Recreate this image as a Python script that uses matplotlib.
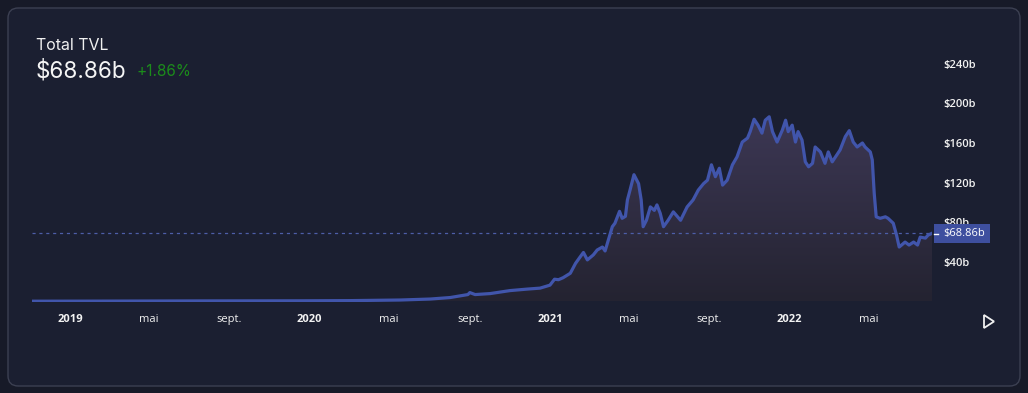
import numpy as np
import matplotlib
matplotlib.use("Agg")
import matplotlib.pyplot as plt
import matplotlib.dates as mdates
from matplotlib.patches import FancyBboxPatch, Polygon, Rectangle
from matplotlib.lines import Line2D

# TVL data (billions USD)
dates = ["2018-11-04", "2019-02-16", "2019-07-18", "2019-12-17", "2020-03-03",
         "2020-05-18", "2020-07-03", "2020-08-02", "2020-08-29", "2020-09-01",
         "2020-09-09", "2020-10-02", "2020-11-01", "2020-11-27", "2020-12-17",
         "2021-01-01", "2021-01-08", "2021-01-14", "2021-01-21", "2021-02-01",
         "2021-02-09", "2021-02-16", "2021-02-21", "2021-02-27", "2021-03-08",
         "2021-03-14", "2021-03-22", "2021-03-26", "2021-04-06", "2021-04-10",
         "2021-04-17", "2021-04-21", "2021-04-26", "2021-04-29", "2021-05-03",
         "2021-05-09", "2021-05-16", "2021-05-20", "2021-05-23", "2021-05-28",
         "2021-06-03", "2021-06-09", "2021-06-13", "2021-06-18", "2021-06-23",
         "2021-06-30", "2021-07-08", "2021-07-19", "2021-07-29", "2021-08-07",
         "2021-08-15", "2021-08-23", "2021-08-29", "2021-09-04", "2021-09-10",
         "2021-09-16", "2021-09-21", "2021-09-28", "2021-10-06", "2021-10-13",
         "2021-10-21", "2021-10-29", "2021-11-02", "2021-11-08", "2021-11-14",
         "2021-11-20", "2021-11-25", "2021-12-01", "2021-12-06", "2021-12-13",
         "2021-12-21", "2021-12-26", "2021-12-30", "2022-01-05", "2022-01-10",
         "2022-01-14", "2022-01-20", "2022-01-25", "2022-01-30", "2022-02-05",
         "2022-02-09", "2022-02-17", "2022-02-24", "2022-03-01", "2022-03-07",
         "2022-03-12", "2022-03-19", "2022-03-27", "2022-04-02", "2022-04-08",
         "2022-04-14", "2022-04-22", "2022-04-26", "2022-05-04", "2022-05-07",
         "2022-05-10", "2022-05-13", "2022-05-19", "2022-05-27", "2022-05-31",
         "2022-06-08", "2022-06-13", "2022-06-17", "2022-06-26", "2022-07-02",
         "2022-07-09", "2022-07-15", "2022-07-19", "2022-07-27", "2022-07-31",
         "2022-08-06"]
tvl = [0.3, 0.4, 0.6, 0.7, 0.9,
       1.5, 2.5, 4, 7, 9,
       7, 8, 11, 12.5, 13.5,
       16.5, 22.5, 22, 24, 28.5,
       38.5, 45, 49.5, 42, 47,
       52, 55, 51, 75.5, 79,
       91, 84, 86, 102.5, 112.5,
       128, 119, 102.5, 75.5, 82,
       95.5, 92, 97.5, 89, 75.5,
       82, 90.5, 82, 95.5, 102.5,
       112.5, 119, 122.5, 138, 126,
       134.5, 117.5, 122.5, 138, 146,
       161, 165, 171.5, 184, 178,
       170, 183, 186.5, 171.5, 161,
       173, 183, 171.5, 178, 161,
       171.5, 163, 141, 136, 139.5,
       156, 151, 139.5, 151, 141,
       146, 153, 166.5, 172.5, 161,
       156, 160, 156, 151, 143,
       109, 85.5, 84, 85.5, 84,
       79, 67, 55, 60, 57,
       60, 57, 65, 64, 67,
       68.86]

y_ticks = [40, 80, 120, 160, 200, 240]
x_tick_dates = ["2019-01-01", "2019-05-01", "2019-09-01", "2020-01-01", "2020-05-01",
                "2020-09-01", "2021-01-01", "2021-05-01", "2021-09-01", "2022-01-01",
                "2022-05-01"]
x_tick_labels = ["2019", "mai", "sept.", "2020", "mai", "sept.", "2021", "mai",
                 "sept.", "2022", "mai"]

W, H = 1028, 393
page_bg = "#171a28"
card_bg = "#1b1f31"
line_col = "#4155ab"


def px(x, y):
    # pixel coords (top-left origin) -> figure fraction
    return x / W, 1 - y / H


fig = plt.figure(figsize=(W / 100, H / 100), dpi=100, facecolor=page_bg)

card = FancyBboxPatch(px(8, 386), 1012 / W, 378 / H,
                      boxstyle="round,pad=0,rounding_size=0.01",
                      transform=fig.transFigure, facecolor=card_bg,
                      edgecolor="#3c4052", linewidth=1.0, mutation_aspect=W / H,
                      zorder=-10)
fig.patches.append(card)

x = mdates.date2num(np.array(dates, dtype="datetime64[D]"))
y = np.array(tvl)

left, top = px(32, 40)
right, bottom = px(932, 301.5)
ax = fig.add_axes([left, bottom, right - left, top - bottom])
ax.set_facecolor("none")
ax.set_xlim(x[0], x[-1])
ax.set_ylim(0, 264)

# gradient fill under the curve
fill = ax.fill_between(x, y, 0, color="none", lw=0)
grad = np.linspace(1, 0, 256).reshape(-1, 1)
c_top = np.array([0x3d, 0x38, 0x55]) / 255
c_bot = np.array([0x24, 0x23, 0x31]) / 255
img = c_bot + (c_top - c_bot) * grad[..., None]
im = ax.imshow(img, extent=[x[0], x[-1], 0, 190], aspect="auto", origin="upper", zorder=1)
im.set_clip_path(fill.get_paths()[0], transform=ax.transData)
ax.set_xlim(x[0], x[-1])
ax.set_ylim(0, 264)

ax.plot(x, y, color=line_col, lw=2.3, zorder=3, solid_joinstyle="round")
ax.axhline(tvl[-1], color="#4d5ea8", lw=0.9, ls=(0, (2.5, 3)), zorder=2)

for s in ax.spines.values():
    s.set_visible(False)

ax.yaxis.tick_right()
ax.set_yticks(y_ticks)
ax.set_yticklabels([r"\$%db" % v for v in y_ticks], color="#f2f2f2",
                   fontsize=8, fontweight="semibold", family="Open Sans", ha="left")
ax.tick_params(axis="y", length=0, pad=8)

ax.set_xticks(mdates.date2num(np.array(x_tick_dates, dtype="datetime64[D]")))
ax.set_xticklabels(x_tick_labels, color="#f2f2f2", fontsize=8, family="Open Sans")
for lab in ax.get_xticklabels():
    if lab.get_text().isdigit():
        lab.set_fontweight("bold")
ax.tick_params(axis="x", length=0, pad=9)

# current value tag
tag = Rectangle(px(934, 243), 56 / W, 19 / H, transform=fig.transFigure,
                facecolor="#3e4f9f", edgecolor="none", zorder=5)
fig.patches.append(tag)
fig.add_artist(Line2D([934 / W, 938 / W], [1 - 233.5 / H] * 2, color="white", lw=1,
                      transform=fig.transFigure, zorder=6))
fig.text(*px(943, 233.5), r"\$68.86b", color="white", fontsize=8, family="Open Sans",
         va="center", ha="left", zorder=6)

# header
fig.text(*px(36, 45), "Total TVL", color="#f0f0f0", fontsize=11.5, family="Inter",
         va="center", ha="left")
fig.text(*px(36, 71), r"\$68.86b", color="#f5f5f5", fontsize=16.2, family="Inter",
         va="center", ha="left")
fig.text(*px(137, 72), "+1.86%", color="#1b8c1b", fontsize=11, family="Inter",
         va="center", ha="left")

# play icon
tri = Polygon([px(984, 315), px(984, 328), px(994, 321.5)], closed=True, fill=False,
              edgecolor="#f0f0f0", lw=1.3, transform=fig.transFigure)
fig.patches.append(tri)

fig.savefig("out.png", dpi=100, facecolor=page_bg)
